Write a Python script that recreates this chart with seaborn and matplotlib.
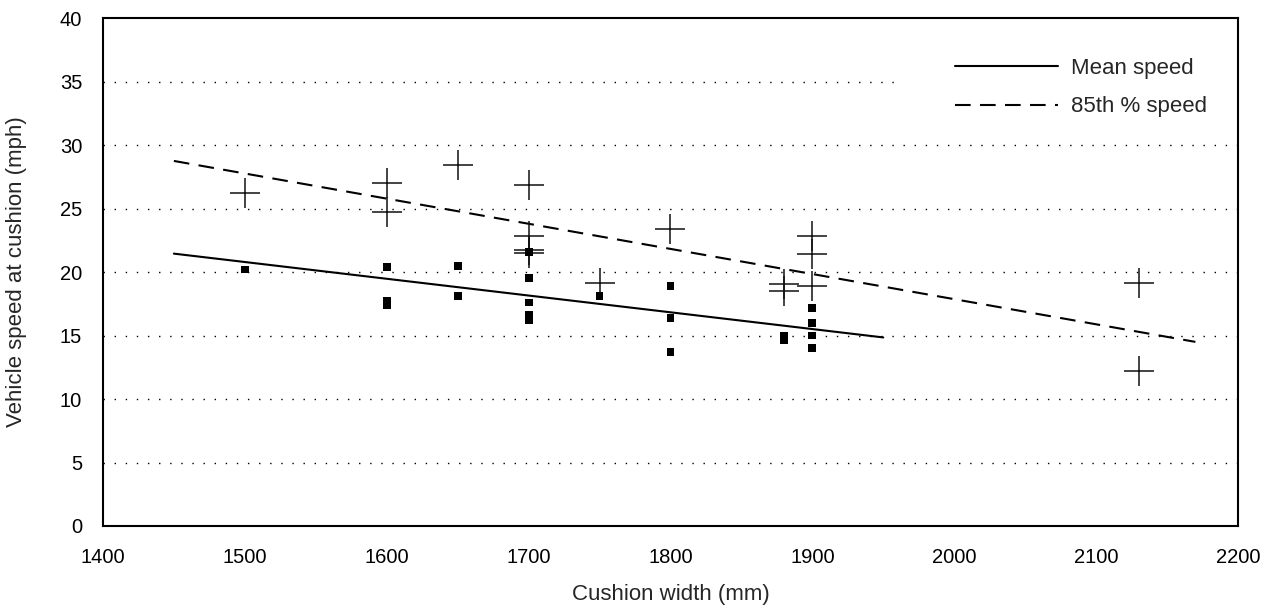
import numpy as np
import pandas as pd
import matplotlib
matplotlib.use("Agg")
import matplotlib.pyplot as plt
from matplotlib.lines import Line2D
from matplotlib.patches import Rectangle
import seaborn as sns

# cushion width (mm) and speeds (mph)
mean_width = [1500, 1600, 1600, 1600, 1650, 1650, 1700, 1700, 1700, 1700, 1700,
              1750, 1800, 1800, 1800, 1880, 1880, 1900, 1900, 1900, 1900]
mean_speed = [20.2, 20.4, 17.7, 17.4, 20.5, 18.1, 21.6, 19.5, 17.6, 16.6, 16.2,
              18.1, 18.9, 16.4, 13.7, 14.95, 14.65, 17.2, 16.0, 15.0, 14.0]

p85_width = [1500, 1600, 1600, 1650, 1700, 1700, 1700, 1700, 1750, 1800,
             1880, 1880, 1900, 1900, 1900, 2130, 2130]
p85_speed = [26.2, 27.0, 24.75, 28.4, 26.85, 22.8, 21.7, 21.5, 19.1, 23.4,
             19.05, 18.5, 22.8, 21.4, 18.9, 19.1, 12.2]

# trend lines
mean_line_x = [1450, 1950]
mean_line_y = [21.45, 14.85]
p85_line_x = [1450, 2170]
p85_line_y = [28.75, 14.5]

sns.set_style("white")
plt.rcParams['font.family'] = ['Liberation Sans', 'DejaVu Sans']

fig = plt.figure(figsize=(12.71, 6.09), dpi=100)
ax = fig.add_axes([0.081, 0.1363, 0.893, 0.834])

# dotted gridlines
for yv in range(5, 40, 5):
    ax.axhline(yv, color='black', lw=1.0, linestyle=(0, (1, 7)), zorder=0)

# white area behind the legend (hides the gridline there)
ax.add_patch(Rectangle((0.70, 0.80), 0.30, 0.17, transform=ax.transAxes,
                       facecolor='white', edgecolor='none', zorder=1))

df_mean = pd.DataFrame({'width': mean_width, 'speed': mean_speed})
df_p85 = pd.DataFrame({'width': p85_width, 'speed': p85_speed})

sns.scatterplot(data=df_p85, x='width', y='speed', marker='+', s=460,
                color='#111111', linewidth=1.1, ax=ax, zorder=3)
sns.scatterplot(data=df_mean, x='width', y='speed', marker='s', s=32,
                color='black', edgecolor='none', ax=ax, zorder=3)

sns.lineplot(x=mean_line_x, y=mean_line_y, color='black', lw=1.5, ax=ax, zorder=2)
sns.lineplot(x=p85_line_x, y=p85_line_y, color='black', lw=1.5, ax=ax, zorder=2,
             dashes=False, linestyle=(0, (7.5, 4.5)))

ax.set_xlim(1400, 2200)
ax.set_ylim(0, 40)
ax.set_xticks(range(1400, 2201, 100))
ax.set_yticks(range(0, 41, 5))
ax.tick_params(length=0, labelsize=14.5, colors='black')
ax.tick_params(axis='y', pad=15)
ax.tick_params(axis='x', pad=16)
ax.set_xlabel('Cushion width (mm)', fontsize=16)
ax.set_ylabel('Vehicle speed at cushion (mph)', fontsize=16)
ax.xaxis.set_label_coords(0.5, -0.115)
ax.yaxis.set_label_coords(-0.067, 0.5)

for sp in ax.spines.values():
    sp.set_color('black')
    sp.set_linewidth(1.5)

handles = [Line2D([0], [0], color='black', lw=1.5),
           Line2D([0], [0], color='black', lw=1.5, linestyle=(0, (7.5, 4.5)))]
leg = ax.legend(handles, ['Mean speed', '85th % speed'], loc='upper left',
                bbox_to_anchor=(0.751, 0.922), fontsize=16, frameon=False,
                handlelength=4.6, handletextpad=0.6, labelspacing=0.8,
                borderpad=0, borderaxespad=0)
leg.set_zorder(5)

fig.savefig('out.png', dpi=100)
